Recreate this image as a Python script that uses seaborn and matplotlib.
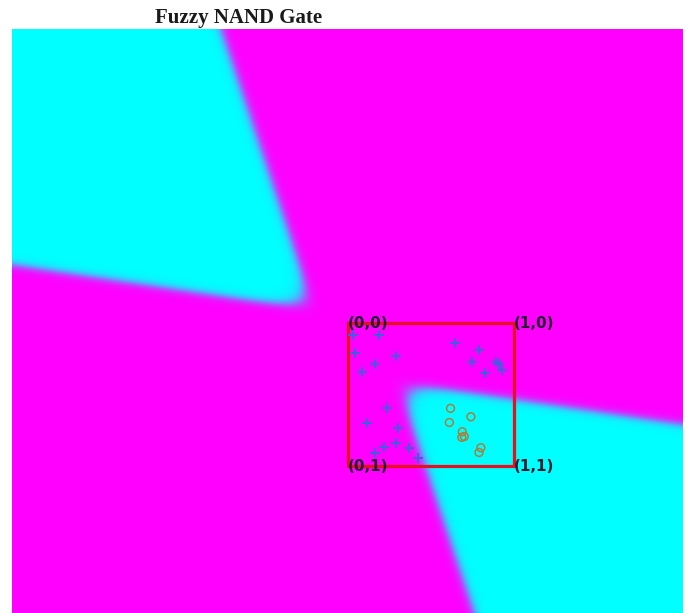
import numpy as np
import pandas as pd
import matplotlib
matplotlib.use('Agg')
import matplotlib.pyplot as plt
import seaborn as sns

# Data

# training samples inside the unit square (y grows downward)
plus_x = [0.030, 0.187, 0.040, 0.161, 0.286, 0.084, 0.644, 0.789, 0.745, 0.890, 0.909,
          0.929, 0.829, 0.235, 0.111, 0.302, 0.288, 0.215, 0.161, 0.368, 0.422]
plus_y = [0.082, 0.082, 0.210, 0.285, 0.227, 0.343, 0.140, 0.187, 0.273, 0.273, 0.285,
          0.327, 0.350, 0.596, 0.697, 0.736, 0.837, 0.865, 0.911, 0.876, 0.942]
circle_x = [0.618, 0.611, 0.741, 0.689, 0.701, 0.686, 0.801, 0.790]
circle_y = [0.596, 0.695, 0.655, 0.760, 0.793, 0.799, 0.872, 0.905]

# corners of the input square and their labels
corner_x = [0, 1, 0, 1]
corner_y = [0, 0, 1, 1]
corner_labels = ['(0,0)', '(1,0)', '(0,1)', '(1,1)']

# fuzzy output surface: two soft bands crossing near the square's corner
band_center = [0.046, 0.160]      # crossing point (x, y)
band_slopes = [0.174, 0.287]      # dy/dx of shallow band, dx/dy of steep band
band_halfwidth = [0.208, 0.178]
corner_round = 0.09
steepness = 60

x_range = [-2.03, 2.02]
y_range = [-2.06, 2.03]

# Figure

fig = plt.figure(figsize=(6.99, 6.13), dpi=100)
ax = fig.add_axes([12 / 699, 0, 670.7 / 699, (613 - 29.3) / 613])

xs = np.linspace(x_range[0], x_range[1], 500)
ys = np.linspace(y_range[0], y_range[1], 500)
X, Y = np.meshgrid(xs, ys)
u = (Y - band_center[1]) - band_slopes[0] * (X - band_center[0])
v = (X - band_center[0]) - band_slopes[1] * (Y - band_center[1])


def sig(t):
    return 1 / (1 + np.exp(-t))


def soft_min(a, b, r):
    m = np.minimum(a, b)
    return m - r * np.log(np.exp(-(a - m) / r) + np.exp(-(b - m) / r))


hi = sig(steepness * soft_min(u - band_halfwidth[0], v - band_halfwidth[1], corner_round))
lo = sig(steepness * soft_min(-u - band_halfwidth[0], -v - band_halfwidth[1], corner_round))
z = 1 - (hi + lo)

ax.imshow(z, cmap='cool', vmin=0, vmax=1, origin='upper', aspect='auto',
          interpolation='bilinear',
          extent=(x_range[0], x_range[1], y_range[1], y_range[0]))

# red unit square
ax.plot([0, 1, 1, 0, 0], [0, 0, 1, 1, 0], color='#e8101e', lw=2.3, zorder=3)

sns.scatterplot(x=plus_x, y=plus_y, marker='+', s=45, color='#4a5ae0',
                linewidth=1.5, ax=ax, zorder=4)
sns.scatterplot(x=circle_x, y=circle_y, marker='o', s=32, facecolor='none',
                edgecolor='#a8803c', linewidth=1.1, ax=ax, zorder=4)

for cx, cy, lab in zip(corner_x, corner_y, corner_labels):
    ax.text(cx, cy, lab, ha='left', va='center', fontsize=11, fontweight='bold',
            color='#241c30', zorder=5)

ax.set_xlim(x_range)
ax.set_ylim(y_range[1], y_range[0])
ax.set_axis_off()

fig.text(155 / 699, 1 - 23.3 / 613, 'Fuzzy NAND Gate', ha='left', va='baseline',
         fontsize=15, fontweight='bold', family='Liberation Serif', color='#1a1a1a')

plt.savefig('out.png', dpi=100)
